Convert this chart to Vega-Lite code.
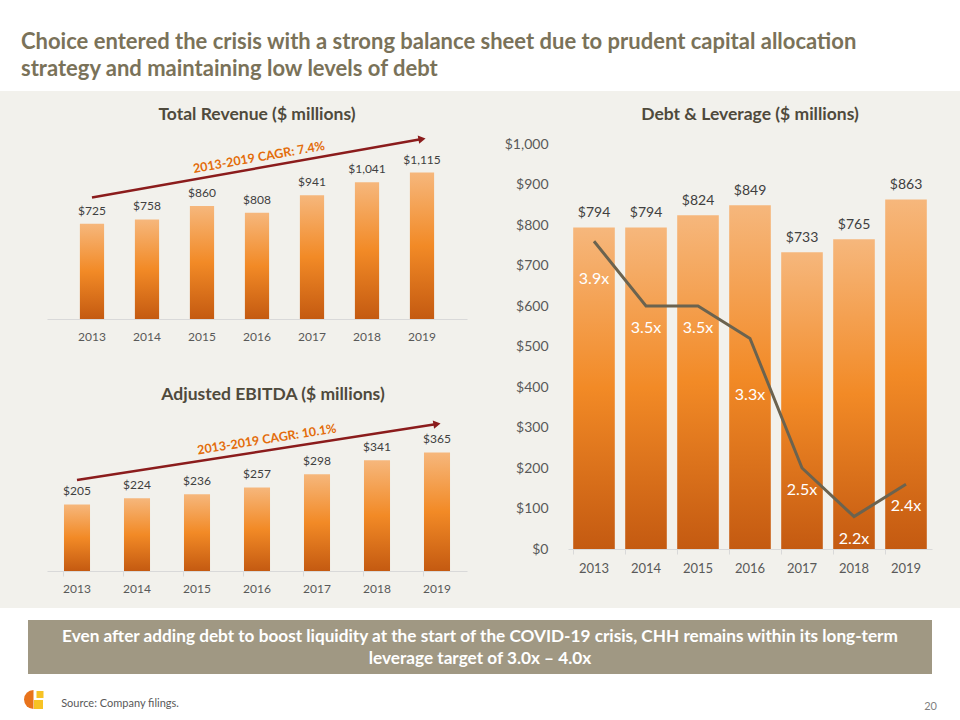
{
  "$schema": "https://vega.github.io/schema/vega-lite/v6.json",
  "background": "#f2f1ec",
  "padding": 0,
  "spacing": 14,
  "config": {"font": "Lato", "view": {"stroke": null}, "axis": {"grid": false}},
  "datasets": {
    "fin": [
      {"year": "2013", "revenue": 725, "ebitda": 205, "debt": 794, "leverage": 3.9, "lev_label": "3.9x"},
      {"year": "2014", "revenue": 758, "ebitda": 224, "debt": 794, "leverage": 3.5, "lev_label": "3.5x"},
      {"year": "2015", "revenue": 860, "ebitda": 236, "debt": 824, "leverage": 3.5, "lev_label": "3.5x"},
      {"year": "2016", "revenue": 808, "ebitda": 257, "debt": 849, "leverage": 3.3, "lev_label": "3.3x"},
      {"year": "2017", "revenue": 941, "ebitda": 298, "debt": 733, "leverage": 2.5, "lev_label": "2.5x"},
      {"year": "2018", "revenue": 1041, "ebitda": 341, "debt": 765, "leverage": 2.2, "lev_label": "2.2x"},
      {"year": "2019", "revenue": 1115, "ebitda": 365, "debt": 863, "leverage": 2.4, "lev_label": "2.4x"}
    ],
    "rev_arrow": [{"year": "2013", "cagr_path": 925}, {"year": "2019", "cagr_path": 1370}],
    "rev_note": [{"year": "2016", "cagr_path": 1227, "note": "2013-2019 CAGR: 7.4%"}],
    "ebitda_arrow": [{"year": "2013", "cagr_path": 280}, {"year": "2019", "cagr_path": 452}],
    "ebitda_note": [{"year": "2016", "cagr_path": 400, "note": "2013-2019 CAGR: 10.1%"}],
    "slide": [{"callout": "Even after adding debt to boost liquidity at the start of the COVID-19 crisis, CHH remains within its long-term\nleverage target of 3.0x – 4.0x", "source": "Source: Company filings.", "page": "20"}]
  },
  "vconcat": [
    {
      "width": 960, "height": 91,
      "view": {"fill": "#ffffff"},
      "data": {"name": "slide"},
      "mark": {"type": "text", "text": ""},
      "title": {
        "text": ["Choice entered the crisis with a strong balance sheet due to prudent capital allocation", "strategy and maintaining low levels of debt"],
        "anchor": "start", "frame": "group", "orient": "top", "baseline": "top",
        "offset": -81, "dx": 21, "fontSize": 22, "fontWeight": "bold", "color": "#7a7259", "lineHeight": 27
      }
    },
    {
      "hconcat": [
        {"width": 47, "height": 1, "view": {"fill": "#f2f1ec"}, "data": {"name": "slide"}, "mark": {"type": "text", "text": ""}},
        {
          "vconcat": [
            {
              "width": 420, "height": 175,
              "data": {"name": "fin"},
              "title": {"text": "Total Revenue ($ millions)", "fontSize": 17.5, "fontWeight": "bold", "color": "#4f4a3c", "offset": 11, "anchor": "middle", "frame": "group"},
              "encoding": {
                "x": {"field": "year", "type": "ordinal", "scale": {"paddingInner": 0.56, "paddingOuter": 0.598},
                      "axis": {"title": null, "labelAngle": 0, "ticks": false, "domainColor": "#d9d9d9", "labelColor": "#595959", "labelFontSize": 12, "labelPadding": 12}}
              },
              "layer": [
                {
                  "mark": {"type": "bar", "color": {"gradient": "linear", "x1": 0, "y1": 0, "x2": 0, "y2": 1, "stops": [{"offset": 0, "color": "#f6b77c"}, {"offset": 0.5, "color": "#f28a26"}, {"offset": 1, "color": "#c45a11"}]}},
                  "encoding": {"y": {"field": "revenue", "type": "quantitative", "scale": {"domain": [0, 1332]}, "axis": null}}
                },
                {
                  "mark": {"type": "text", "baseline": "bottom", "dy": -6, "fontSize": 12, "color": "#404040"},
                  "encoding": {"y": {"field": "revenue", "type": "quantitative", "scale": {"domain": [0, 1332]}, "axis": null}, "text": {"field": "revenue", "format": "$,.0f"}}
                },
                {
                  "data": {"name": "rev_arrow"},
                  "mark": {"type": "line", "color": "#8b1c1c", "strokeWidth": 2.5},
                  "encoding": {"y": {"field": "cagr_path", "type": "quantitative", "scale": {"domain": [0, 1332]}, "axis": null}}
                },
                {
                  "data": {"name": "rev_arrow"},
                  "transform": [{"filter": "datum.year == '2019'"}],
                  "mark": {"type": "point", "shape": "triangle-right", "filled": true, "size": 70, "angle": -10, "color": "#8b1c1c", "opacity": 1},
                  "encoding": {"y": {"field": "cagr_path", "type": "quantitative", "scale": {"domain": [0, 1332]}, "axis": null}}
                },
                {
                  "data": {"name": "rev_note"},
                  "mark": {"type": "text", "angle": -10, "fontSize": 12.5, "fontWeight": "bold", "color": "#e36c0a", "dx": 2},
                  "encoding": {"y": {"field": "cagr_path", "type": "quantitative", "scale": {"domain": [0, 1332]}, "axis": null}, "text": {"field": "note"}}
                }
              ]
            },
            {
              "width": 420, "height": 156,
              "data": {"name": "fin"},
              "title": {"text": "Adjusted EBITDA ($ millions)", "fontSize": 17.5, "fontWeight": "bold", "color": "#4f4a3c", "offset": 12, "anchor": "middle", "frame": "group", "dx": 16},
              "encoding": {
                "x": {"field": "year", "type": "ordinal", "scale": {"paddingInner": 0.566, "paddingOuter": 0.283},
                      "axis": {"title": null, "labelAngle": 0, "ticks": true, "bandPosition": 0, "tickSize": 5, "tickColor": "#d9d9d9", "domainColor": "#d9d9d9", "labelColor": "#595959", "labelFontSize": 12, "labelPadding": 7}}
              },
              "layer": [
                {
                  "mark": {"type": "bar", "color": {"gradient": "linear", "x1": 0, "y1": 0, "x2": 0, "y2": 1, "stops": [{"offset": 0, "color": "#f6b77c"}, {"offset": 0.5, "color": "#f28a26"}, {"offset": 1, "color": "#c45a11"}]}},
                  "encoding": {"y": {"field": "ebitda", "type": "quantitative", "scale": {"domain": [0, 480]}, "axis": null}}
                },
                {
                  "mark": {"type": "text", "baseline": "bottom", "dy": -6, "fontSize": 12, "color": "#404040"},
                  "encoding": {"y": {"field": "ebitda", "type": "quantitative", "scale": {"domain": [0, 480]}, "axis": null}, "text": {"field": "ebitda", "format": "$,.0f"}}
                },
                {
                  "data": {"name": "ebitda_arrow"},
                  "mark": {"type": "line", "color": "#8b1c1c", "strokeWidth": 2.5},
                  "encoding": {"y": {"field": "cagr_path", "type": "quantitative", "scale": {"domain": [0, 480]}, "axis": null}}
                },
                {
                  "data": {"name": "ebitda_arrow"},
                  "transform": [{"filter": "datum.year == '2019'"}],
                  "mark": {"type": "point", "shape": "triangle-right", "filled": true, "size": 70, "angle": -9, "color": "#8b1c1c", "opacity": 1},
                  "encoding": {"y": {"field": "cagr_path", "type": "quantitative", "scale": {"domain": [0, 480]}, "axis": null}}
                },
                {
                  "data": {"name": "ebitda_note"},
                  "mark": {"type": "text", "angle": -9, "fontSize": 12.5, "fontWeight": "bold", "color": "#e36c0a", "dx": 10},
                  "encoding": {"y": {"field": "cagr_path", "type": "quantitative", "scale": {"domain": [0, 480]}, "axis": null}, "text": {"field": "note"}}
                }
              ]
            }
          ],
          "spacing": 43
        },
        {"width": 33, "height": 1, "view": {"fill": "#f2f1ec"}, "data": {"name": "slide"}, "mark": {"type": "text", "text": ""}},
        {
          "width": 364, "height": 405,
          "data": {"name": "fin"},
          "title": {"text": "Debt & Leverage ($ millions)", "fontSize": 17.5, "fontWeight": "bold", "color": "#4f4a3c", "offset": 14, "anchor": "middle"},
          "encoding": {
            "x": {"field": "year", "type": "ordinal", "scale": {"paddingInner": 0.2, "paddingOuter": 0.1},
                  "axis": {"title": null, "labelAngle": 0, "ticks": true, "bandPosition": 0, "tickSize": 5, "tickColor": "#d9d9d9", "domainColor": "#d9d9d9", "labelColor": "#595959", "labelFontSize": 13, "labelPadding": 8}}
          },
          "layer": [
            {
              "encoding": {"y": {"field": "debt", "type": "quantitative", "scale": {"domain": [0, 1000]},
                                 "axis": {"title": null, "values": [0, 100, 200, 300, 400, 500, 600, 700, 800, 900, 1000], "format": "$,.0f", "labelFontSize": 14, "labelColor": "#595959", "ticks": false, "domain": false, "grid": false, "labelPadding": 20, "minExtent": 68, "maxExtent": 68}}},
              "layer": [
                {"mark": {"type": "bar", "color": {"gradient": "linear", "x1": 0, "y1": 0, "x2": 0, "y2": 1, "stops": [{"offset": 0, "color": "#f6b77c"}, {"offset": 0.5, "color": "#f28a26"}, {"offset": 1, "color": "#c45a11"}]}}},
                {"mark": {"type": "text", "baseline": "bottom", "dy": -7, "fontSize": 14, "color": "#404040"}, "encoding": {"text": {"field": "debt", "format": "$,.0f"}}}
              ]
            },
            {
              "encoding": {"y": {"field": "leverage", "type": "quantitative", "scale": {"domain": [2, 4.5]}, "axis": null}},
              "layer": [
                {"mark": {"type": "line", "color": "#6b634f", "strokeWidth": 3}},
                {"transform": [{"filter": "datum.year != '2013' && datum.year != '2016'"}], "mark": {"type": "text", "dy": 22, "fontSize": 16, "color": "#ffffff"}, "encoding": {"text": {"field": "lev_label"}}},
                {"transform": [{"filter": "datum.year == '2013'"}], "mark": {"type": "text", "dy": 38, "fontSize": 16, "color": "#ffffff"}, "encoding": {"text": {"field": "lev_label"}}},
                {"transform": [{"filter": "datum.year == '2016'"}], "mark": {"type": "text", "dy": 57, "fontSize": 16, "color": "#ffffff"}, "encoding": {"text": {"field": "lev_label"}}}
              ]
            }
          ],
          "resolve": {"scale": {"y": "independent"}}
        }
      ],
      "spacing": 0
    },
    {
      "vconcat": [
        {"width": 960, "height": 12, "view": {"fill": "#ffffff"}, "data": {"name": "slide"}, "mark": {"type": "text", "text": ""}},
        {
          "hconcat": [
            {"width": 28, "height": 54, "view": {"fill": "#ffffff"}, "data": {"name": "slide"}, "mark": {"type": "text", "text": ""}},
            {"width": 904, "height": 54, "view": {"fill": "#a09883"}, "data": {"name": "slide"},
             "mark": {"type": "text", "lineBreak": "\n", "color": "#ffffff", "fontSize": 17.2, "fontWeight": "bold", "lineHeight": 22, "dy": -10},
             "encoding": {"text": {"field": "callout"}}},
            {"width": 28, "height": 54, "view": {"fill": "#ffffff"}, "data": {"name": "slide"}, "mark": {"type": "text", "text": ""}}
          ],
          "spacing": 0
        },
        {
          "hconcat": [
            {"width": 55, "height": 48, "view": {"fill": "#ffffff"}, "data": {"name": "slide"},
             "layer": [
               {"mark": {"type": "arc", "radius": 9.5, "theta": 3.14159, "theta2": 6.28318, "color": "#e8731c", "xOffset": 6, "yOffset": 1.5}},
               {"mark": {"type": "point", "shape": "square", "filled": true, "opacity": 1, "size": 49, "color": "#f7c325", "xOffset": 12.5, "yOffset": -3.5}},
               {"mark": {"type": "point", "shape": "square", "filled": true, "opacity": 1, "size": 81, "color": "#f7c325", "xOffset": 11, "yOffset": 6.5}}
             ]},
            {"width": 130, "height": 48, "view": {"fill": "#ffffff"}, "data": {"name": "slide"},
             "mark": {"type": "text", "fontSize": 11, "color": "#595959", "dy": 6},
             "encoding": {"text": {"field": "source"}}},
            {"width": 716, "height": 48, "view": {"fill": "#ffffff"}, "data": {"name": "slide"}, "mark": {"type": "text", "text": ""}},
            {"width": 59, "height": 48, "view": {"fill": "#ffffff"}, "data": {"name": "slide"},
             "mark": {"type": "text", "fontSize": 11, "color": "#7f7f7f", "dy": 9},
             "encoding": {"text": {"field": "page"}}}
          ],
          "spacing": 0
        }
      ],
      "spacing": 0
    }
  ]
}
